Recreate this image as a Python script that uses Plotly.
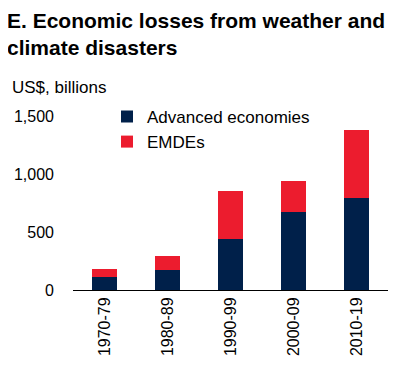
import plotly.graph_objects as go

categories = ["1970-79", "1980-89", "1990-99", "2000-09", "2010-19"]
advanced = [115, 175, 437, 675, 790]
emdes = [63, 118, 419, 267, 592]
yticks = [0, 500, 1000, 1500]
ytick_text = ["0", "500", "1,000", "1,500"]

NAVY = "#00204A"
RED = "#EC1C2E"
FONT = "Liberation Sans, Arial, sans-serif"

fig = go.Figure()
fig.add_trace(go.Bar(x=categories, y=advanced, name="Advanced economies", marker_color=NAVY, marker_line_width=0))
fig.add_trace(go.Bar(x=categories, y=emdes, name="EMDEs", marker_color=RED, marker_line_width=0))

fig.update_layout(
    barmode="stack",
    bargap=0.6,
    width=404, height=383,
    margin=dict(l=65, r=24, t=108, b=101),
    paper_bgcolor="white", plot_bgcolor="white",
    font=dict(family=FONT, size=16, color="#000000"),
    legend=dict(x=0.108, y=1.098, xanchor="left", yanchor="top", bgcolor="rgba(0,0,0,0)",
                font=dict(size=17), itemwidth=30, tracegroupgap=4, traceorder="normal"),
    showlegend=True,
    annotations=[
        dict(text="<b>E. Economic losses from weather and<br>climate disasters</b>",
             xref="paper", yref="paper", x=-0.215, y=1.625, xanchor="left", yanchor="top",
             align="left", showarrow=False, font=dict(size=21, color="#000000")),
        dict(text="US$, billions", xref="paper", yref="paper", x=-0.2, y=1.161,
             xanchor="left", yanchor="middle", showarrow=False, font=dict(size=17)),
    ],
)
fig.update_xaxes(type="category", showline=True, linecolor="#000000", linewidth=1, ticks="",
                 tickangle=-90, tickfont=dict(size=16), range=[-0.5, 4.5], automargin=False)
fig.update_yaxes(range=[0, 1500], tickvals=yticks, ticktext=ytick_text, showgrid=False,
                 zeroline=False, ticks="", ticklabelstandoff=18, tickfont=dict(size=16),
                 automargin=False)

fig.write_html("out.html")
